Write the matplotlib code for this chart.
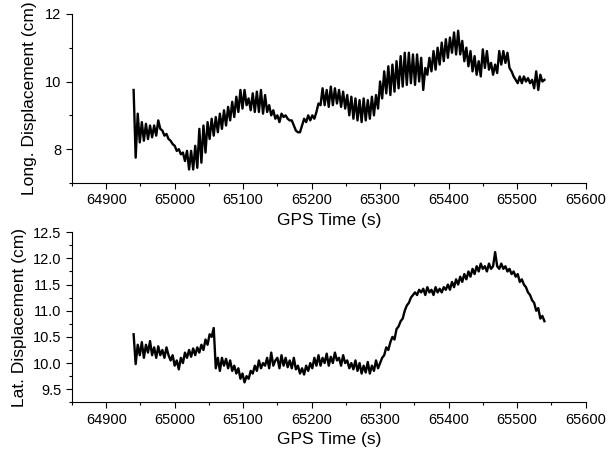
import numpy as np
import matplotlib
matplotlib.use('Agg')
from matplotlib import pyplot as plt
from matplotlib.ticker import MultipleLocator

plt.rcParams['font.family'] = ['Liberation Sans', 'DejaVu Sans']

# GPS time: samples every 3 s from 64940 s
t_start = 64940
t_step = 3

# longitudinal displacement (cm)
long_disp = [
    9.75, 7.75, 9.05, 8.2, 8.8, 8.25, 8.75, 8.3, 8.7, 8.35,
    8.7, 8.4, 8.85, 8.6, 8.55, 8.4, 8.45, 8.3, 8.25, 8.15,
    8.1, 7.95, 8.0, 7.85, 7.9, 7.65, 7.95, 7.4, 7.95, 7.4,
    8.1, 7.45, 8.6, 7.6, 8.7, 7.9, 8.8, 8.3, 8.9, 8.4,
    8.95, 8.5, 9.05, 8.6, 9.15, 8.7, 9.25, 8.85, 9.4, 8.95,
    9.55, 9.1, 9.75, 9.2, 9.75, 9.3, 9.5, 9.15, 9.65, 9.1,
    9.7, 9.1, 9.75, 9.05, 9.6, 9.1, 9.3, 9.0, 9.15, 8.9,
    9.0, 8.8, 9.05, 8.95, 9.0, 8.9, 8.85, 8.85, 8.7, 8.55,
    8.5, 8.5, 8.7, 8.9, 8.8, 9.0, 8.85, 9.0, 8.9, 9.1,
    9.35, 9.3, 9.8, 9.3, 9.75, 9.25, 9.85, 9.3, 9.8, 9.35,
    9.75, 9.25, 9.7, 9.2, 9.6, 9.0, 9.55, 8.9, 9.5, 8.85,
    9.45, 8.8, 9.5, 8.85, 9.45, 8.9, 9.55, 9.0, 9.6, 9.2,
    10.0, 9.5, 10.3, 9.65, 10.45, 9.6, 10.5, 9.7, 10.6, 9.8,
    10.75, 9.85, 10.85, 9.9, 10.85, 9.95, 10.8, 9.9, 10.8, 10.0,
    10.7, 9.75, 10.4, 10.2, 10.7, 10.3, 10.9, 10.35, 11.0, 10.5,
    11.15, 10.6, 11.25, 10.7, 11.3, 10.85, 11.45, 10.8, 11.5, 10.8,
    11.2, 10.6, 11.0, 10.45, 10.9, 10.3, 10.75, 10.2, 10.6, 10.15,
    10.95, 10.4, 10.9, 10.35, 10.55, 10.2, 10.5, 10.25, 10.9, 10.5,
    10.9, 10.55, 10.85, 10.4, 10.3, 10.15, 10.05, 9.95, 10.15, 9.95,
    10.15, 10.0, 10.1, 9.95, 10.05, 9.8, 10.3, 9.75, 10.2, 10.0,
    10.05,
]

# lateral displacement (cm)
lat_disp = [
    10.55, 9.98, 10.35, 10.15, 10.4, 10.1, 10.35, 10.2, 10.42, 10.15,
    10.3, 10.1, 10.32, 10.15, 10.25, 10.1, 10.3, 10.15, 10.05, 10.15,
    9.95, 10.05, 9.88, 10.1, 10.0, 10.2, 10.1, 10.25, 10.12, 10.28,
    10.15, 10.3, 10.2, 10.35, 10.25, 10.45, 10.35, 10.55, 10.5, 10.67,
    9.9, 10.1, 9.85, 10.1, 9.95, 10.08, 9.9, 10.05, 9.85, 9.95,
    9.8, 9.9, 9.7, 9.8, 9.63, 9.75, 9.7, 9.85, 9.8, 9.95,
    9.85, 10.05, 9.9, 10.0, 9.95, 10.1, 9.9, 10.2, 9.95, 10.05,
    10.1, 9.9, 10.15, 9.95, 10.1, 9.92, 10.05, 9.9, 10.1, 9.88,
    9.95, 9.8, 9.9, 9.78, 9.95, 9.85, 10.0, 9.9, 10.1, 9.95,
    10.15, 9.95, 10.1, 10.0, 10.18, 9.95, 10.12, 10.0, 10.2, 10.05,
    10.1, 9.95, 10.15, 10.0, 10.05, 9.9, 10.0, 9.88, 10.05, 9.85,
    10.0, 9.8, 9.95, 9.82, 10.02, 9.8, 9.95, 9.85, 10.05, 9.9,
    10.0, 10.1, 10.15, 10.3, 10.25, 10.4, 10.5, 10.45, 10.65, 10.7,
    10.8, 10.85, 11.0, 11.1, 11.15, 11.25, 11.3, 11.35, 11.3, 11.4,
    11.35, 11.42, 11.3, 11.45, 11.35, 11.4, 11.3, 11.45, 11.35, 11.42,
    11.35, 11.45, 11.4, 11.5, 11.4, 11.55, 11.45, 11.6, 11.5, 11.65,
    11.55, 11.7, 11.6, 11.75, 11.65, 11.8, 11.7, 11.85, 11.75, 11.9,
    11.8, 11.85, 11.75, 11.9, 11.8, 11.85, 12.12, 11.85, 11.8, 11.9,
    11.8, 11.85, 11.75, 11.8, 11.7, 11.75, 11.65, 11.7, 11.55, 11.6,
    11.5, 11.45, 11.35, 11.3, 11.2, 11.15, 11.0, 11.05, 10.85, 10.9,
    10.8,
]

t_long = t_start + t_step * np.arange(len(long_disp))
t_lat = t_start + t_step * np.arange(len(lat_disp))

fig = plt.figure(figsize=(6.07, 4.61), dpi=100)
ax1 = fig.add_axes([0.1186, 0.603, 0.846, 0.367])
ax2 = fig.add_axes([0.1186, 0.1273, 0.846, 0.369])

ax1.plot(t_long, long_disp, color='black', lw=1.7)
ax2.plot(t_lat, lat_disp, color='black', lw=1.7)

for ax in (ax1, ax2):
    ax.set_xlim(64850, 65600)
    ax.xaxis.set_major_locator(MultipleLocator(100))
    ax.xaxis.set_minor_locator(MultipleLocator(50))
    ax.spines['top'].set_visible(False)
    ax.spines['right'].set_visible(False)
    ax.tick_params(which='major', direction='out', length=4, width=0.8, labelsize=10.5)
    ax.tick_params(which='minor', direction='out', length=2.5, width=0.8)
    ax.set_xlabel('GPS Time (s)', fontsize=12.5, labelpad=4)

ax1.set_ylim(7, 12)
ax1.yaxis.set_major_locator(MultipleLocator(2))
ax1.yaxis.set_minor_locator(MultipleLocator(1))
ax1.set_ylabel('Long. Displacement (cm)', fontsize=12.5, labelpad=6)

ax2.set_ylim(9.25, 12.5)
ax2.yaxis.set_major_locator(MultipleLocator(0.5))
ax2.yaxis.set_minor_locator(MultipleLocator(0.25))
ax2.yaxis.set_major_formatter(matplotlib.ticker.FormatStrFormatter('%.1f'))
ax2.set_ylabel('Lat. Displacement (cm)', fontsize=12.5)

fig.savefig('out.png', dpi=100)
